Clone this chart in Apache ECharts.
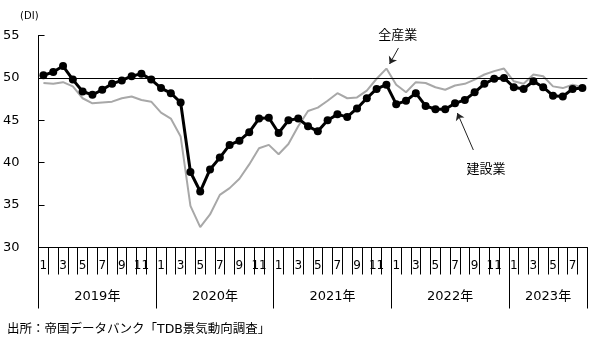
<!DOCTYPE html>
<html>
<head>
<meta charset="utf-8">
<script src="https://cdn.jsdelivr.net/npm/echarts@6/dist/echarts.min.js"></script>
<style>
  html, body { margin: 0; padding: 0; background: #fff; }
  #chart { width: 600px; height: 344px; }
</style>
</head>
<body>
<div id="chart"></div>
<script>
// Month of each observation, Jan 2019 – Aug 2023
const monthLabels = [
  '1','2','3','4','5','6','7','8','9','10','11','12',
  '1','2','3','4','5','6','7','8','9','10','11','12',
  '1','2','3','4','5','6','7','8','9','10','11','12',
  '1','2','3','4','5','6','7','8','9','10','11','12',
  '1','2','3','4','5','6','7','8'
];
const yearLabels = ['2019年', '2020年', '2021年', '2022年', '2023年'];

// 建設業 DI
const construction = [
  50.3, 50.7, 51.4, 49.8, 48.4, 48.0, 48.6, 49.3, 49.7, 50.2, 50.5, 49.8,
  48.8, 48.2, 47.1, 38.9, 36.6, 39.2, 40.6, 42.1, 42.6, 43.6, 45.2, 45.3,
  43.5, 45.0, 45.2, 44.3, 43.7, 45.0, 45.7, 45.4, 46.4, 47.6, 48.7, 49.2,
  46.9, 47.3, 48.2, 46.7, 46.3, 46.3, 47.0, 47.4, 48.3, 49.3, 49.9, 50.0,
  48.9, 48.7, 49.6, 48.9, 47.9, 47.8, 48.7, 48.8
];

// 全産業 DI
const allIndustries = [
  49.4, 49.3, 49.5, 49.0, 47.6, 47.0, 47.1, 47.2, 47.6, 47.8, 47.4, 47.2,
  45.9, 45.2, 43.1, 34.9, 32.4, 33.9, 36.2, 37.0, 38.1, 39.8, 41.7, 42.1,
  41.0, 42.2, 44.3, 46.1, 46.5, 47.3, 48.2, 47.6, 47.7, 48.5, 49.9, 51.1,
  49.2, 48.3, 49.5, 49.4, 48.9, 48.6, 49.1, 49.3, 49.8, 50.4, 50.8, 51.1,
  49.6, 49.3, 50.4, 50.2, 49.0, 48.8, 49.2, 48.9
];

const yTicks = { min: 30, max: 55, step: 5 };
const baseline = 50;

// Year boundaries and label centres (in month units) derived from the month list
const yearStarts = [];
monthLabels.forEach((m, i) => { if (m === '1') yearStarts.push(i); });
const yearBounds = yearStarts.concat([monthLabels.length]);
const yearCentres = yearStarts.map((s, k) => (s + yearBounds[k + 1]) / 2);

const FONT = "'DejaVu Sans', 'Noto Sans CJK JP', sans-serif";

const chart = echarts.init(document.getElementById('chart'), null, { renderer: 'canvas' });

chart.setOption({
  animation: false,
  backgroundColor: '#ffffff',
  title: {
    text: '出所：帝国データバンク「TDB景気動向調査」',
    left: 7,
    top: 323,
    padding: 0,
    textStyle: { fontFamily: FONT, fontSize: 12.5, fontWeight: 'normal', color: '#000' }
  },
  grid: { left: 37.3, right: 12.7, top: 35.5, bottom: 96.5, containLabel: false },
  xAxis: [
    {
      type: 'category',
      data: monthLabels,
      boundaryGap: true,
      axisLine: { show: true, lineStyle: { color: '#000', width: 1 } },
      axisTick: { show: true, interval: 0, length: 27, lineStyle: { color: '#000', width: 1 } },
      axisLabel: {
        interval: 0,
        margin: 12,
        fontFamily: FONT,
        fontSize: 12,
        color: '#000',
        formatter: (v) => (Number(v) % 2 === 1 ? v : '')
      },
      splitLine: { show: false }
    },
    {
      type: 'value',
      min: 0,
      max: monthLabels.length,
      position: 'bottom',
      axisLine: { show: false },
      axisTick: {
        show: true,
        customValues: yearBounds,
        length: 61,
        lineStyle: { color: '#000', width: 1 }
      },
      axisLabel: {
        customValues: yearCentres,
        margin: 43,
        fontFamily: FONT,
        fontSize: 13,
        color: '#000',
        formatter: (v) => yearLabels[yearCentres.indexOf(v)]
      },
      splitLine: { show: false }
    }
  ],
  yAxis: {
    type: 'value',
    min: yTicks.min,
    max: yTicks.max,
    interval: yTicks.step,
    name: '(DI)',
    nameLocation: 'end',
    nameGap: 14,
    nameTextStyle: { fontFamily: FONT, fontSize: 10, color: '#000', align: 'right' },
    axisLine: { show: true, lineStyle: { color: '#000', width: 1 } },
    axisTick: { show: true, inside: true, length: 6, lineStyle: { color: '#000' } },
    axisLabel: { margin: 19, fontFamily: FONT, fontSize: 13, color: '#000' },
    splitLine: { show: false }
  },
  series: [
    {
      name: '全産業',
      type: 'line',
      xAxisIndex: 0,
      data: allIndustries,
      symbol: 'none',
      lineStyle: { color: '#a8a8a8', width: 2 },
      z: 2,
      markLine: {
        silent: true,
        symbol: 'none',
        label: { show: false },
        lineStyle: { color: '#000', width: 1, type: 'solid' },
        data: [{ yAxis: baseline }]
      }
    },
    {
      name: '建設業',
      type: 'line',
      xAxisIndex: 0,
      data: construction,
      symbol: 'circle',
      symbolSize: 8,
      itemStyle: { color: '#000' },
      lineStyle: { color: '#000', width: 3 },
      z: 3
    },
    {
      // Callout arrows naming each line
      name: 'callouts',
      type: 'line',
      xAxisIndex: 1,
      data: [],
      markLine: {
        silent: true,
        symbol: ['none', 'arrow'],
        symbolSize: 7,
        lineStyle: { color: '#222', width: 1, type: 'solid' },
        label: {
          show: true,
          position: 'start',
          fontFamily: FONT,
          fontSize: 13,
          color: '#000'
        },
        data: [
          [
            { coord: [36.73, 53.53], label: { formatter: '全産業', distance: 7, padding: [0, 8, 0, 0] } },
            { coord: [35.82, 51.64] }
          ],
          [
            { coord: [44.37, 41.5], label: { formatter: '建設業', distance: 14, padding: [0, 0, 0, 14] } },
            { coord: [42.74, 45.86] }
          ]
        ]
      }
    }
  ]
});
</script>
</body>
</html>
